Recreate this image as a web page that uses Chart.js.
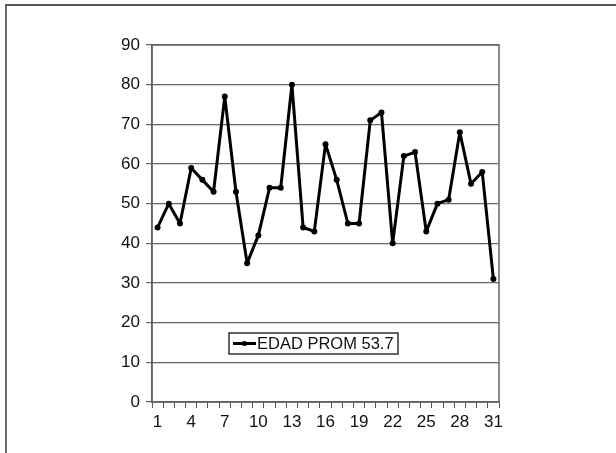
<!DOCTYPE html>
<html>
<head>
<meta charset="utf-8">
<script src="https://cdn.jsdelivr.net/npm/chart.js@4/dist/chart.umd.min.js"></script>
<style>
html, body { margin: 0; padding: 0; background: #fff; overflow: hidden; }
#frame { position: absolute; left: 5px; top: 4px; width: 640px; height: 480px; border-top: 2px solid #555; border-left: 2px solid #666; }
#wrap { position: absolute; left: 0; top: 0; width: 616px; height: 453px; }
</style>
</head>
<body>
<div id="frame"></div>
<div id="wrap"><canvas id="myChart"></canvas></div>
<script>
// Data
const days = ["1","2","3","4","5","6","7","8","9","10","11","12","13","14","15","16",
  "17","18","19","20","21","22","23","24","25","26","27","28","29","30","31"];
const edad = [44, 50, 45, 59, 56, 53, 77, 53, 35, 42, 54, 54, 80, 44, 43, 65,
  56, 45, 45, 71, 73, 40, 62, 63, 43, 50, 51, 68, 55, 58, 31];
const serieLabel = "EDAD PROM 53.7";
const yTicks = [0, 10, 20, 30, 40, 50, 60, 70, 80, 90];

// box round the plot + legend inside it
const boxPlugin = {
  id: "boxPlugin",
  afterDraw(chart) {
    const c = chart.ctx, a = chart.chartArea;
    c.save();
    c.strokeStyle = "#666";
    c.lineWidth = 1.5;
    c.strokeRect(a.left, a.top, a.right - a.left, a.bottom - a.top);

    // legend
    const lx = 229, ly = 333, lw = 169, lh = 21;
    c.fillStyle = "#fff";
    c.fillRect(lx, ly, lw, lh);
    c.strokeStyle = "#333";
    c.lineWidth = 1.5;
    c.strokeRect(lx, ly, lw, lh);
    c.strokeStyle = "#000";
    c.lineWidth = 3;
    c.beginPath();
    c.moveTo(lx + 4, ly + 10.5);
    c.lineTo(lx + 27, ly + 10.5);
    c.stroke();
    c.fillStyle = "#000";
    c.beginPath();
    c.arc(lx + 15.5, ly + 10.5, 2.5, 0, Math.PI * 2);
    c.fill();
    c.font = "16.5px 'Liberation Sans', Arial, sans-serif";
    c.textBaseline = "middle";
    c.fillStyle = "#111";
    c.fillText(chart.data.datasets[0].label, lx + 28, ly + 11.5);
    c.restore();
  }
};

const ctx = document.getElementById("myChart");

let chart = new Chart(ctx, {
  type: "line",
  data: {
    labels: days,
    datasets: [
      {
        label: serieLabel,
        data: edad,
        borderColor: "#000",
        backgroundColor: "#000",
        borderWidth: 3,
        borderJoinStyle: "round",
        borderCapStyle: "round",
        pointRadius: 3,
        pointBackgroundColor: "#000",
        pointBorderWidth: 0,
        tension: 0
      }
    ]
  },
  options: {
    animation: false,
    responsive: true,
    maintainAspectRatio: false,
    layout: { padding: { left: 0, top: 45, right: 117, bottom: 0 } },
    plugins: { legend: { display: false }, tooltip: { enabled: false } },
    scales: {
      x: {
        offset: true,
        afterFit(s) { s.height = 51; },
        grid: { offset: true, drawOnChartArea: false, drawTicks: true, tickLength: 6, color: "#555", lineWidth: 1 },
        border: { color: "#555", width: 1.5 },
        ticks: {
          autoSkip: false,
          maxRotation: 0,
          padding: 4,
          color: "#111",
          font: { family: "'Liberation Sans', Arial, sans-serif", size: 17 },
          callback: function(v, i) { return i % 3 === 0 ? days[i] : ""; }
        }
      },
      y: {
        min: 0,
        max: 90,
        afterFit(s) { s.width = 152; },
        afterBuildTicks(s) { s.ticks = yTicks.map(v => ({ value: v })); },
        grid: { color: "#666", lineWidth: 1.2, tickLength: 6 },
        border: { color: "#555", width: 1.5 },
        ticks: {
          padding: 6,
          color: "#111",
          font: { family: "'Liberation Sans', Arial, sans-serif", size: 17 }
        }
      }
    }
  },
  plugins: [boxPlugin]
});
</script>
</body>
</html>
